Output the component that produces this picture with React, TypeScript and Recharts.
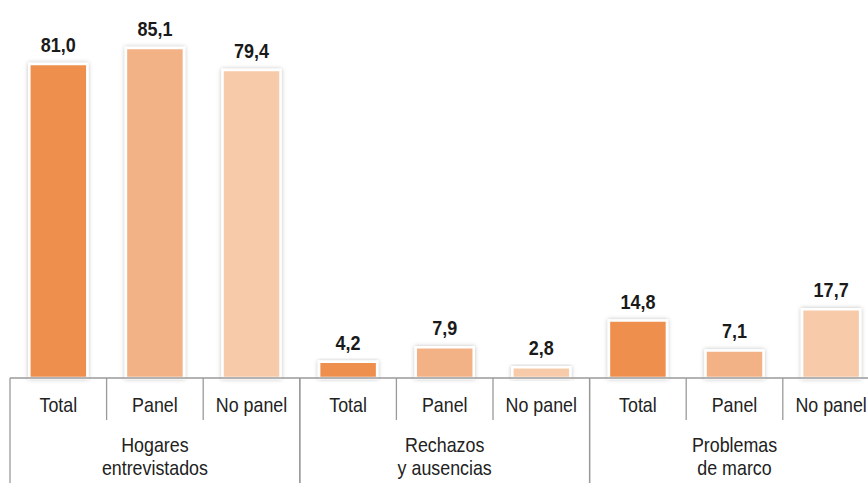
import { BarChart, Bar, XAxis, YAxis, Cell, LabelList } from "recharts";

const groups = ["Hogares\nentrevistados", "Rechazos\ny ausencias", "Problemas\nde marco"];
const subLabels = ["Total", "Panel", "No panel"];
const hogares = [81.0, 85.1, 79.4];
const rechazos = [4.2, 7.9, 2.8];
const problemas = [14.8, 7.1, 17.7];
const colors = ["#ee8f4e", "#f3b286", "#f7cbaa"];

const data = [hogares, rechazos, problemas].flatMap((vals, g) =>
  vals.map((v, i) => ({ name: subLabels[i], group: groups[g], value: v, k: i }))
);

const W = 890;
const H = 483;
const LEFT = 10;
const RIGHT = 10.6;
const STEP = (W - LEFT - RIGHT) / data.length;
const AX1 = 45;
const AX2 = 60;
const LINE = "#9a9a9a";
const FONT = "'Liberation Sans', Arial, sans-serif";
const SQUEEZE = 0.85;

// narrow font isn't installed, so squeeze the regular one horizontally
const Narrow = ({ x, y, children, size = 21 }: any) => (
  <text
    transform={`translate(${x},${y}) scale(${SQUEEZE},1)`}
    textAnchor="middle"
    fontSize={size}
    fill="#222"
    fontFamily={FONT}
  >
    {children}
  </text>
);

const SubTick = (props: any) => {
  const { x, y, payload, index } = props;
  return (
    <g>
      <Narrow x={x} y={y + 34}>{payload.value}</Narrow>
      {index % 3 !== 2 && (
        <line x1={x + STEP / 2} x2={x + STEP / 2} y1={y} y2={y + 42} stroke={LINE} strokeWidth={1.3} />
      )}
    </g>
  );
};

const GroupTick = (props: any) => {
  const { x, y, payload, index } = props;
  if (index % 3 !== 1) return <g />;
  const lines = String(payload.value).split("\n");
  return (
    <g>
      {lines.map((l, i) => (
        <Narrow key={i} x={x} y={y + 29 + i * 23}>{l}</Narrow>
      ))}
      <line x1={x - 1.5 * STEP} x2={x - 1.5 * STEP} y1={y - AX1} y2={y + AX2} stroke={LINE} strokeWidth={1.3} />
      <line x1={x + 1.5 * STEP} x2={x + 1.5 * STEP} y1={y - AX1} y2={y + AX2} stroke={LINE} strokeWidth={1.3} />
    </g>
  );
};

const ValueLabel = (props: any) => {
  const { x, y, width, value } = props;
  return (
    <text
      transform={`translate(${x + width / 2},${y - 12}) scale(0.9,1)`}
      textAnchor="middle"
      fontSize={20}
      fontWeight="bold"
      fill="#1a1a1a"
      fontFamily={FONT}
    >
      {Number(value).toFixed(1).replace(".", ",")}
    </text>
  );
};

export default function App() {
  return (
    <div style={{ position: "absolute", left: 0, top: 0, width: 868, height: H, overflow: "hidden", background: "#fff" }}>
      <BarChart
        width={W}
        height={H}
        data={data}
        margin={{ top: 29, right: RIGHT, bottom: 0, left: LEFT }}
        barCategoryGap="20%"
      >
        <defs>
          <filter id="barShadow" x="-20%" y="-20%" width="140%" height="140%">
            <feDropShadow dx="0" dy="0" stdDeviation="2" floodColor="#000" floodOpacity="0.25" />
          </filter>
        </defs>
        <YAxis hide domain={[0, 90]} />
        <XAxis
          dataKey="name"
          interval={0}
          height={AX1}
          tickSize={0}
          tickMargin={0}
          tickLine={false}
          axisLine={{ stroke: LINE, strokeWidth: 1.3 }}
          tick={<SubTick />}
        />
        <XAxis
          xAxisId="grp"
          dataKey="group"
          interval={0}
          height={AX2}
          tickSize={0}
          tickMargin={0}
          tickLine={false}
          axisLine={false}
          tick={<GroupTick />}
        />
        <Bar dataKey="value" stroke="#fff" strokeWidth={2.5} isAnimationActive={false}>
          {data.map((d, i) => (
            <Cell key={i} fill={colors[d.k]} filter="url(#barShadow)" />
          ))}
          <LabelList dataKey="value" content={<ValueLabel />} />
        </Bar>
      </BarChart>
    </div>
  );
}
